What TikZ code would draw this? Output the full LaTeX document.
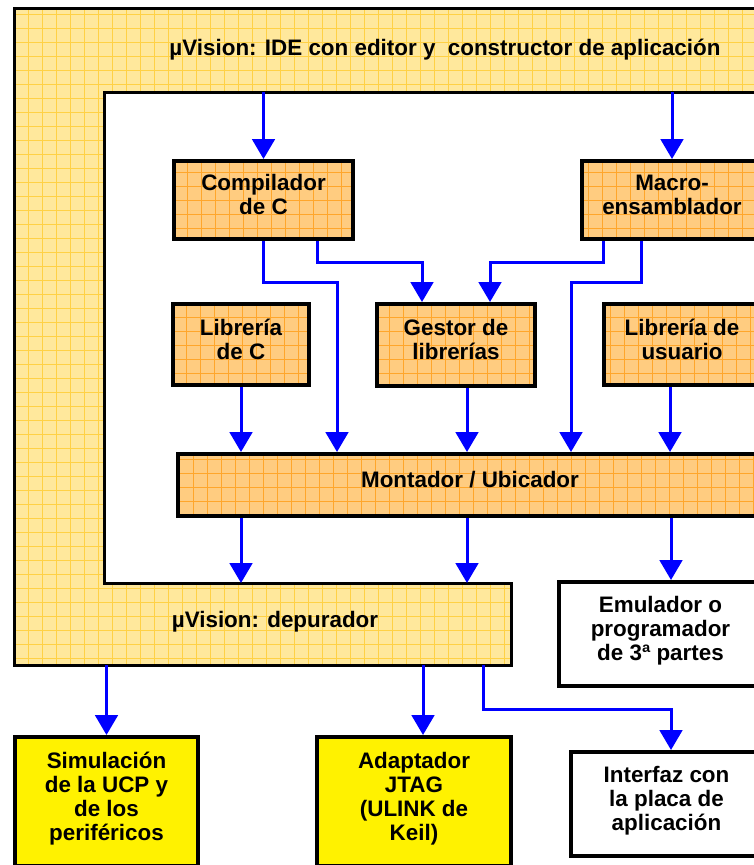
\documentclass[tikz,border=0pt]{standalone}
\usepackage{fontspec}
\setmainfont{Liberation Sans}
\usetikzlibrary{calc, arrows.meta}

\definecolor{amarillo}{HTML}{FFE89C}
\definecolor{amarillored}{HTML}{FFD145}
\definecolor{naranja}{HTML}{FFCC80}
\definecolor{naranjared}{HTML}{FFA62B}
\definecolor{flecha}{HTML}{0000FF}

\begin{document}
\begin{tikzpicture}[x=0.75pt, y=-0.75pt,
   >={Triangle[width=17pt, length=15pt]},
   flow/.style = {->, draw=flecha, line width=2.25pt},
   net/.style = {path picture={\draw[#1, line width=0.6pt]
      (path picture bounding box.south west) grid[step=10.5pt]
      (path picture bounding box.north east);}},
   every node/.style = {font=\fontsize{16.8}{18}\selectfont\bfseries, align=center},
   box/.style = {draw, line width=3pt, fill=naranja, net=naranjared, inner sep=0pt, text depth=8pt},
   ext/.style = {draw, line width=3pt, fill=white, inner sep=0pt, text depth=8pt},
   hw/.style = {draw, line width=3pt, fill=yellow, inner sep=0pt, text depth=8pt}]
   \useasboundingbox (0,0) rectangle (754,865);
   \clip (0,0) rectangle (754,865);
   %
   \draw[line width=2.25pt, fill=amarillo, net=amarillored]
      (14.5,8.5) -- (780,8.5) -- (780,92) -- (104,92) -- (104,583)
      -- (511,583) -- (511,665) -- (14.5,665) -- cycle;
   \coordinate (ide) at (104,92);
   \coordinate (dep) at (104,583);
   \coordinate (bot) at (14.5,665);
   \node (tit)  at (445,50)  {µVision: IDE con editor y~ constructor de aplicación};
   \node (depu) at (275,622) {µVision: depurador};
   %
   \node[box, minimum width=134.25pt, minimum height=58.5pt]  (comp)  at (263.5,200) {Compilador\\de C};
   \node[box, minimum width=135pt, minimum height=58.5pt]     (macro) at (672,200)   {Macro-\\ensamblador};
   \node[box, minimum width=102pt, minimum height=60.75pt]    (libc)  at (241,344.5) {Librería\\de C};
   \node[box, minimum width=118.5pt, minimum height=61.5pt]   (gest)  at (456,345)   {Gestor de\\librerías};
   \node[box, minimum width=117pt, minimum height=60.75pt]    (libu)  at (682,344.5) {Librería de\\usuario};
   \node[box, minimum width=438pt, minimum height=46.5pt]     (mont)  at (470,485)   {Montador / Ubicador};
   \node[ext, minimum width=152.25pt, minimum height=78pt]    (emu)   at (660.5,634) {Emulador o\\programador\\de 3ª partes};
   \node[hw, minimum width=137.25pt, minimum height=96.75pt]  (sim)   at (106.5,801.5) {Simulación\\de la UCP y\\de los\\periféricos};
   \node[hw, minimum width=145.5pt, minimum height=96.75pt]   (adapt) at (414,801.5) {Adaptador\\JTAG\\(ULINK de\\Keil)};
   \node[ext, minimum width=143.25pt, minimum height=78pt]    (inter) at (666.5,804) {Interfaz con\\la placa de\\aplicación};
   %
   \draw[flow] (comp |- ide) -- (comp);
   \draw[flow] (macro |- ide) -- (macro);
   \draw[flow] (comp.south) -- ++(0,41) -| (337,0 |- mont.north);
   \draw[flow] (317,0 |- comp.south) -- ++(0,21) -| (422,0 |- gest.north);
   \draw[flow] (603,0 |- macro.south) -- ++(0,21) -| (490,0 |- gest.north);
   \draw[flow] (641,0 |- macro.south) -- ++(0,41) -| (571,0 |- mont.north);
   %
   \draw[flow] (libc) -- (libc |- mont.north);
   \draw[flow] (467,0 |- gest.south) -- (467,0 |- mont.north);
   \draw[flow] (670,0 |- libu.south) -- (670,0 |- mont.north);
   %
   \draw[flow] (241,0 |- mont.south) -- (241,0 |- dep);
   \draw[flow] (467,0 |- mont.south) -- (467,0 |- dep);
   \draw[flow] (671,0 |- mont.south) -- (671,0 |- emu.north);
   %
   \draw[flow] (sim |- bot) -- (sim);
   \draw[flow] (423,0 |- bot) -- (423,0 |- adapt.north);
   \draw[flow] (483,0 |- bot) -- ++(0,44) -| (671,0 |- inter.north);
\end{tikzpicture}
\end{document}
